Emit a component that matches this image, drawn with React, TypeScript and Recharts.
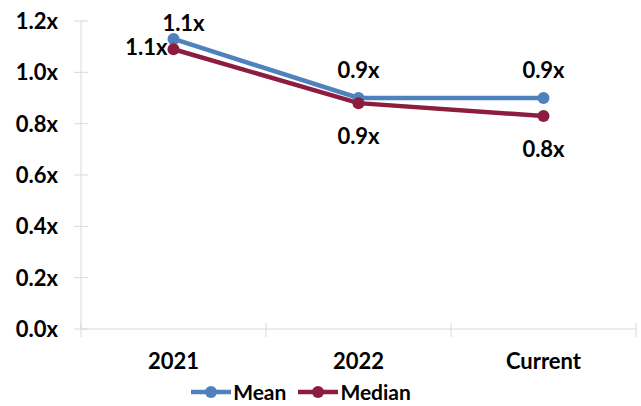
import React from 'react';
import { LineChart, Line, XAxis, YAxis, Legend, LabelList } from 'recharts';

const periods = ['2021', '2022', 'Current'];
const meanValues = [1.13, 0.9, 0.9];
const medianValues = [1.09, 0.88, 0.83];
const yTicks = [0, 0.2, 0.4, 0.6, 0.8, 1.0, 1.2];

const MEAN_COLOR = '#4f81bd';
const MEDIAN_COLOR = '#8c1d40';
const AXIS_COLOR = '#d9d9d9';
const FONT = 'Lato, "Noto Sans", sans-serif';
const FS = 22;

const data = periods.map((period, i) => ({
  period,
  mean: meanValues[i],
  median: medianValues[i],
}));

const fmt = (v: number) => `${v.toFixed(1)}x`;

const HALF_BAND = 92.5;

const YTick = (props: any) => {
  const { x, y, payload } = props;
  return (
    <g>
      <line x1={x - 7} x2={x + 7} y1={y} y2={y} stroke={AXIS_COLOR} strokeWidth={1} />
      <text x={x - 23} y={y} dy={8} textAnchor="end" fontFamily={FONT} fontWeight={700} fontSize={FS} fill="#000">
        {fmt(payload.value)}
      </text>
    </g>
  );
};

const XTick = (props: any) => {
  const { x, y, payload, index } = props;
  const last = index === periods.length - 1;
  return (
    <g>
      <line x1={x - HALF_BAND} x2={x - HALF_BAND} y1={y - 6} y2={y + 8} stroke={AXIS_COLOR} strokeWidth={1} />
      {last && (
        <line x1={x + HALF_BAND} x2={x + HALF_BAND} y1={y - 6} y2={y + 8} stroke={AXIS_COLOR} strokeWidth={1} />
      )}
      <text x={x} y={y + 40} textAnchor="middle" fontFamily={FONT} fontWeight={700} fontSize={FS} fill="#000">
        {payload.value}
      </text>
    </g>
  );
};

const MeanLabel = (props: any) => {
  const { x, y, value, index } = props;
  const dx = index === 0 ? 10 : 0;
  const dy = index === 0 ? -8 : -20;
  return (
    <text x={x + dx} y={y + dy} textAnchor="middle" fontFamily={FONT} fontWeight={700} fontSize={FS} fill="#000">
      {fmt(value)}
    </text>
  );
};

const MedianLabel = (props: any) => {
  const { x, y, value, index } = props;
  if (index === 0) {
    return (
      <text x={x - 6} y={y + 6} textAnchor="end" fontFamily={FONT} fontWeight={700} fontSize={FS} fill="#000">
        {fmt(value)}
      </text>
    );
  }
  return (
    <text x={x} y={y + 41} textAnchor="middle" fontFamily={FONT} fontWeight={700} fontSize={FS} fill="#000">
      {fmt(value)}
    </text>
  );
};

const LegendContent = () => {
  const items = [
    { name: 'Mean', color: MEAN_COLOR },
    { name: 'Median', color: MEDIAN_COLOR },
  ];
  return (
    <div style={{ display: 'flex', justifyContent: 'center', alignItems: 'center', height: 29, paddingRight: 46 }}>
      {items.map((it) => (
        <div key={it.name} style={{ display: 'flex', alignItems: 'center', marginLeft: 12 }}>
          <svg width={40} height={14}>
            <line x1={0} x2={40} y1={7} y2={7} stroke={it.color} strokeWidth={4.5} />
            <circle cx={20} cy={7} r={6} fill={it.color} />
          </svg>
          <span style={{ fontFamily: FONT, fontWeight: 700, fontSize: 21, color: '#000', marginLeft: 2 }}>{it.name}</span>
        </div>
      ))}
    </div>
  );
};

export default function App() {
  return (
    <div style={{ position: 'absolute', left: 0, top: 0, background: '#fff' }}>
      <LineChart width={641} height={406} data={data} margin={{ top: 21, right: 5, left: 0, bottom: 0 }}>
        <XAxis
          dataKey="period"
          padding={{ left: HALF_BAND, right: HALF_BAND }}
          axisLine={{ stroke: AXIS_COLOR }}
          tickLine={false}
          tickSize={0}
          tickMargin={0}
          height={48}
          tick={<XTick />}
          interval={0}
        />
        <YAxis
          domain={[0, 1.2]}
          ticks={yTicks}
          axisLine={{ stroke: AXIS_COLOR }}
          tickLine={false}
          tickSize={0}
          tickMargin={0}
          width={81}
          tick={<YTick />}
          interval={0}
        />
        <Legend verticalAlign="bottom" content={<LegendContent />} />
        <Line
          dataKey="mean"
          name="Mean"
          stroke={MEAN_COLOR}
          strokeWidth={4.5}
          dot={{ r: 6, fill: MEAN_COLOR, stroke: MEAN_COLOR, strokeWidth: 0 }}
          activeDot={false}
          isAnimationActive={false}
        >
          <LabelList dataKey="mean" content={<MeanLabel />} />
        </Line>
        <Line
          dataKey="median"
          name="Median"
          stroke={MEDIAN_COLOR}
          strokeWidth={4.5}
          dot={{ r: 6, fill: MEDIAN_COLOR, stroke: MEDIAN_COLOR, strokeWidth: 0 }}
          activeDot={false}
          isAnimationActive={false}
        >
          <LabelList dataKey="median" content={<MedianLabel />} />
        </Line>
      </LineChart>
    </div>
  );
}
